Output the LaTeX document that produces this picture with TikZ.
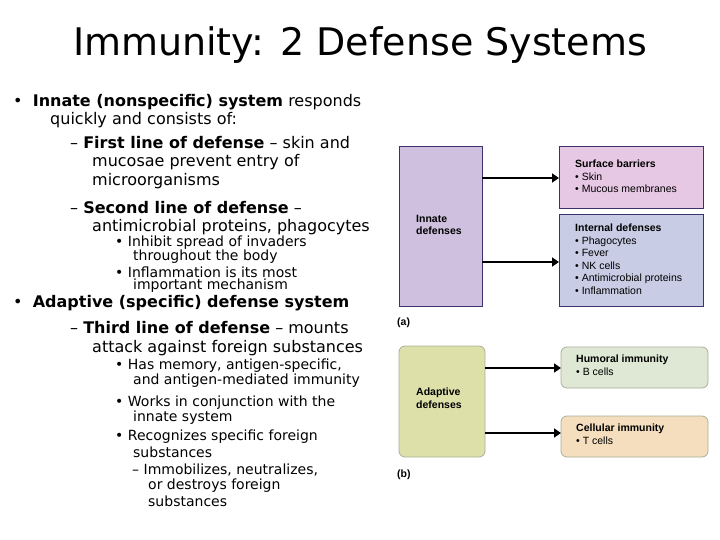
\documentclass[tikz,border=0pt]{standalone}
\usepackage{fontspec}
\setmainfont{DejaVu Sans}
\newfontfamily\dia{Liberation Sans}
\usetikzlibrary{arrows.meta}
\definecolor{pinkf}{RGB}{230,200,228}
\definecolor{purpf}{RGB}{206,192,222}
\definecolor{bluef}{RGB}{200,204,228}
\definecolor{edgeb}{RGB}{60,50,110}
\definecolor{greenf}{RGB}{222,232,212}
\definecolor{olivef}{RGB}{222,224,170}
\definecolor{orangef}{RGB}{244,222,190}
\definecolor{gedge}{RGB}{170,175,150}
\tikzset{
 txt/.style={anchor=west,inner sep=0pt,font=\fontsize{16}{18}\selectfont},
 stxt/.style={anchor=west,inner sep=0pt,font=\fontsize{14}{16}\selectfont},
 sq/.style={draw=edgeb,line width=1pt,inner sep=0pt},
 rd/.style={draw=gedge,line width=0.8pt,rounded corners=6pt,inner sep=0pt},
 dl/.style={anchor=north west,inner sep=0pt,align=left,font=\dia\fontsize{10.5}{12.5}\selectfont},
 arr/.style={line width=2.2pt,-{Triangle[length=7pt,width=9pt]}}
}
\begin{document}
\begin{tikzpicture}[x=1pt,y=-1pt]
\useasboundingbox[fill=white] (0,0) rectangle (720,540);
\node[inner sep=0pt,font=\fontsize{38}{40}\selectfont] (title) at (360,45) {Immunity: 2 Defense Systems};
\node[txt] (l1) at (13,102) {•\ \ \textbf{Innate (nonspecific) system} responds};
\node[txt] (l2) at (50,120) {quickly and consists of:};
\node[txt] (l3) at (70,143) {– \textbf{First line of defense} – skin and};
\node[txt] (l4) at (92,162) {mucosae prevent entry of};
\node[txt] (l5) at (92,181) {microorganisms};
\node[txt] (l6) at (70,208) {– \textbf{Second line of defense} –};
\node[txt] (l7) at (92,227) {antimicrobial proteins, phagocytes};
\node[stxt] (l8) at (115,243) {• Inhibit spread of invaders};
\node[stxt] (l9) at (133,257) {throughout the body};
\node[stxt] (l10) at (115,272) {• Inflammation is its most};
\node[stxt] (l11) at (133,286) {important mechanism};
\node[txt] (l12) at (13,303) {•\ \ \textbf{Adaptive (specific) defense system}};
\node[txt] (l13) at (70,328) {– \textbf{Third line of defense} – mounts};
\node[txt] (l14) at (92,348) {attack against foreign substances};
\node[stxt] (l15) at (115,366) {• Has memory, antigen-specific,};
\node[stxt] (l16) at (133,381) {and antigen-mediated immunity};
\node[stxt] (l17) at (115,403) {• Works in conjunction with the};
\node[stxt] (l18) at (133,418) {innate system};
\node[stxt] (l19) at (115,437) {• Recognizes specific foreign};
\node[stxt] (l20) at (133,452) {substances};
\node[stxt] (l21) at (132,470) {– Immobilizes, neutralizes,};
\node[stxt] (l22) at (148,486) {or destroys foreign};
\node[stxt] (l23) at (148,501) {substances};
% diagram a
\path[sq,fill=purpf] (399,147) rectangle (482,306);
\node[dl] (inn) at (416,215) {\textbf{Innate}\\\textbf{defenses}};
\coordinate (ia1) at (482,178); \coordinate (ia2) at (482,262);
\path[sq,fill=pinkf] (559,147) rectangle (703,209);
\coordinate (sb) at (559,178);
\node[dl] (sbt) at (575,160) {\textbf{Surface barriers}\\• Skin\\• Mucous membranes};
\path[sq,fill=bluef] (559,215) rectangle (703,306);
\coordinate (id) at (559,262);
\node[dl] (idt) at (575,224) {\textbf{Internal defenses}\\• Phagocytes\\• Fever\\• NK cells\\• Antimicrobial proteins\\• Inflammation};
\draw[arr] (ia1) -- (sb);
\draw[arr] (ia2) -- (id);
\node[dl,font=\dia\bfseries\fontsize{10.5}{12}\selectfont] (a) at (397,318) {(a)};
% diagram b
\path[rd,fill=olivef] (399,346) rectangle (485,457);
\node[dl] (ad) at (416,388) {\textbf{Adaptive}\\\textbf{defenses}};
\coordinate (ab1) at (485,368); \coordinate (ab2) at (485,433);
\path[rd,fill=greenf] (561,347) rectangle (708,388);
\coordinate (hu) at (561,368);
\node[dl] (hut) at (576,355) {\textbf{Humoral immunity}\\• B cells};
\path[rd,fill=orangef] (561,416) rectangle (708,457);
\coordinate (ce) at (561,433);
\node[dl] (cet) at (576,424) {\textbf{Cellular immunity}\\• T cells};
\draw[arr] (ab1) -- (hu);
\draw[arr] (ab2) -- (ce);
\node[dl,font=\dia\bfseries\fontsize{10.5}{12}\selectfont] (b) at (397,470) {(b)};
\end{tikzpicture}
\end{document}
